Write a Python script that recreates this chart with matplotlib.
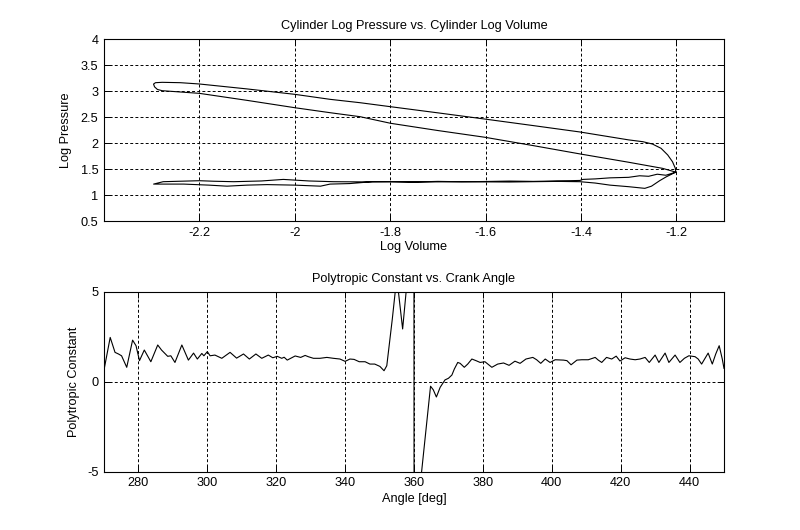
import matplotlib
matplotlib.use("Agg")
import matplotlib.pyplot as plt
import numpy as np
from matplotlib.ticker import FuncFormatter

plt.rcParams['font.family'] = ['Liberation Sans', 'DejaVu Sans']

# ---- Top chart: log P vs log V (cycle traced in order) ----
comp_logv = [-1.201, -1.229, -1.300, -1.402, -1.500, -1.601, -1.700, -1.799, -1.863, -1.926, -2.000, -2.100, -2.200, -2.278, -2.288, -2.294, -2.296]
comp_logp = [1.440, 1.513, 1.630, 1.790, 1.950, 2.110, 2.240, 2.379, 2.506, 2.583, 2.679, 2.820, 2.955, 3.006, 3.030, 3.080, 3.130]

exp_logv = [-2.296, -2.292, -2.278, -2.240, -2.200, -2.100, -2.000, -1.926, -1.863, -1.799, -1.700, -1.601, -1.500, -1.402, -1.300, -1.270, -1.250, -1.232, -1.218, -1.208, -1.202, -1.201]
exp_logp = [3.135, 3.160, 3.167, 3.160, 3.135, 3.040, 2.936, 2.840, 2.775, 2.698, 2.580, 2.460, 2.335, 2.212, 2.060, 2.025, 1.980, 1.898, 1.770, 1.640, 1.513, 1.430]

exh_logv = [-1.201, -1.208, -1.222, -1.240, -1.258, -1.277, -1.300, -1.339, -1.370, -1.396, -1.402, -1.450, -1.500, -1.550, -1.600, -1.650, -1.700, -1.750, -1.800, -1.850, -1.919, -1.970, -2.024, -2.070, -2.128, -2.170, -2.200, -2.240, -2.276, -2.296]
exh_logp = [1.440, 1.420, 1.380, 1.400, 1.360, 1.370, 1.340, 1.330, 1.310, 1.300, 1.280, 1.270, 1.262, 1.268, 1.260, 1.255, 1.262, 1.250, 1.258, 1.252, 1.256, 1.270, 1.300, 1.270, 1.256, 1.265, 1.275, 1.265, 1.256, 1.210]

int_logv = [-2.296, -2.233, -2.180, -2.142, -2.100, -2.058, -2.000, -1.946, -1.926, -1.885, -1.837, -1.750, -1.650, -1.550, -1.450, -1.402, -1.370, -1.339, -1.300, -1.266, -1.252, -1.235, -1.221, -1.201]
int_logp = [1.210, 1.210, 1.190, 1.170, 1.190, 1.200, 1.190, 1.170, 1.210, 1.220, 1.256, 1.250, 1.255, 1.250, 1.262, 1.256, 1.230, 1.190, 1.160, 1.128, 1.170, 1.275, 1.350, 1.440]

# ---- Bottom chart: polytropic constant vs crank angle ----
angle = [270.0, 271.8, 273.2, 274.2, 275.1, 276.6, 278.3, 279.3, 280.3, 281.7, 283.6, 285.6, 286.7, 288.5, 289.4, 290.6, 292.6, 294.5,
         296.0, 297.1, 298.4, 299.0, 300.0, 300.8, 302.2, 304.2, 306.6, 308.5, 310.5, 312.2, 314.1, 315.8, 317.7, 319.0, 320.3, 321.6,
         322.3, 323.2, 325.5, 327.1, 328.4, 329.3, 330.8, 332.7, 334.7, 336.6, 338.5, 340.0, 341.4, 342.6, 344.1, 345.8, 347.2, 348.6,
         350.1, 351.3, 352.1, 352.9, 353.7, 355.0, 356.7, 358.5, 359.9, 360.1, 361.5, 364.8, 365.6, 366.5, 367.6, 369.0, 370.0, 371.0,
         371.7, 372.7, 373.4, 374.6, 375.6, 376.8, 378.0, 379.2, 380.6, 382.6, 384.3, 386.0, 387.6, 389.3, 390.8, 392.5, 394.5, 395.6,
         396.8, 398.1, 399.5, 401.0, 403.4, 404.4, 405.6, 407.3, 408.7, 410.6, 412.6, 413.5, 414.5, 415.9, 417.4, 418.7, 419.8, 421.3,
         422.7, 424.2, 425.6, 427.1, 428.3, 430.0, 431.1, 432.9, 434.0, 435.8, 437.2, 438.5, 439.8, 441.6, 442.5, 443.5, 445.4, 446.6,
         447.6, 448.6, 449.5, 450.0]
kval = [0.65, 2.46, 1.63, 1.54, 1.44, 0.80, 2.31, 2.00, 1.17, 1.76, 1.11, 2.04, 1.76, 1.41, 1.44, 1.07, 2.04, 1.20,
        1.59, 1.26, 1.57, 1.44, 1.67, 1.44, 1.48, 1.30, 1.63, 1.31, 1.54, 1.26, 1.54, 1.30, 1.48, 1.33, 1.41, 1.30,
        1.36, 1.20, 1.43, 1.35, 1.46, 1.39, 1.30, 1.30, 1.35, 1.30, 1.26, 1.13, 1.26, 1.24, 1.11, 1.11, 0.98, 0.98,
        0.85, 0.61, 0.89, 2.19, 3.48, 5.80, 2.93, 6.60, 40.0, -40.0, -6.30, -0.25, -0.45, -0.85, -0.31, 0.10, 0.19, 0.37,
        0.70, 1.07, 1.02, 0.80, 0.98, 1.26, 1.17, 1.07, 1.11, 0.80, 0.98, 1.04, 0.91, 1.14, 1.02, 1.26, 1.35, 1.22,
        1.02, 1.26, 1.07, 1.22, 1.20, 1.17, 0.94, 1.20, 1.22, 1.22, 1.35, 1.20, 1.07, 1.35, 1.26, 1.42, 1.15, 1.33,
        1.26, 1.22, 1.26, 1.35, 1.07, 1.48, 1.07, 1.59, 1.07, 1.48, 1.07, 1.30, 1.44, 1.39, 1.26, 0.98, 1.59, 0.98,
        1.54, 2.00, 1.26, 0.74]

top_xticks = [-2.2, -2.0, -1.8, -1.6, -1.4, -1.2]
top_yticks = [0.5, 1, 1.5, 2, 2.5, 3, 3.5, 4]
bot_xticks = [280, 300, 320, 340, 360, 380, 400, 420, 440]
bot_yticks = [-5, 0, 5]

fmt = FuncFormatter(lambda v, p: ('%g' % v))
FS = 9.2

fig = plt.figure(figsize=(8.0, 5.3), dpi=100)
ax1 = fig.add_axes([0.13, 0.583, 0.775, 0.3434])
ax2 = fig.add_axes([0.13, 0.110, 0.775, 0.3396])

logv = comp_logv + exp_logv + exh_logv + int_logv
logp = comp_logp + exp_logp + exh_logp + int_logp
ax1.plot(logv, logp, color='black', lw=0.8)
ax1.set_xlim(-2.4, -1.1)
ax1.set_ylim(0.5, 4)
ax1.set_xticks(top_xticks)
ax1.set_yticks(top_yticks)
ax1.set_title('Cylinder Log Pressure vs. Cylinder Log Volume', fontsize=FS, pad=7)
ax1.set_xlabel('Log Volume', fontsize=FS, labelpad=2)
ax1.set_ylabel('Log Pressure', fontsize=FS, labelpad=6)

ax2.plot(angle, kval, color='black', lw=0.8)
ax2.set_xlim(270, 450)
ax2.set_ylim(-5, 5)
ax2.set_xticks(bot_xticks)
ax2.set_yticks(bot_yticks)
ax2.set_title('Polytropic Constant vs. Crank Angle', fontsize=FS, pad=7)
ax2.set_xlabel('Angle [deg]', fontsize=FS, labelpad=3)
ax2.set_ylabel('Polytropic Constant', fontsize=FS, labelpad=5)

for ax in (ax1, ax2):
    ax.xaxis.set_major_formatter(fmt)
    ax.yaxis.set_major_formatter(fmt)
    ax.grid(True, color='black', linestyle=(0, (3, 2.3)), linewidth=0.7)
    ax.tick_params(direction='in', length=4, width=0.7, labelsize=FS,
                   top=True, right=True, pad=4)
    for s in ax.spines.values():
        s.set_linewidth(0.8)

fig.savefig('out.png', dpi=100)
